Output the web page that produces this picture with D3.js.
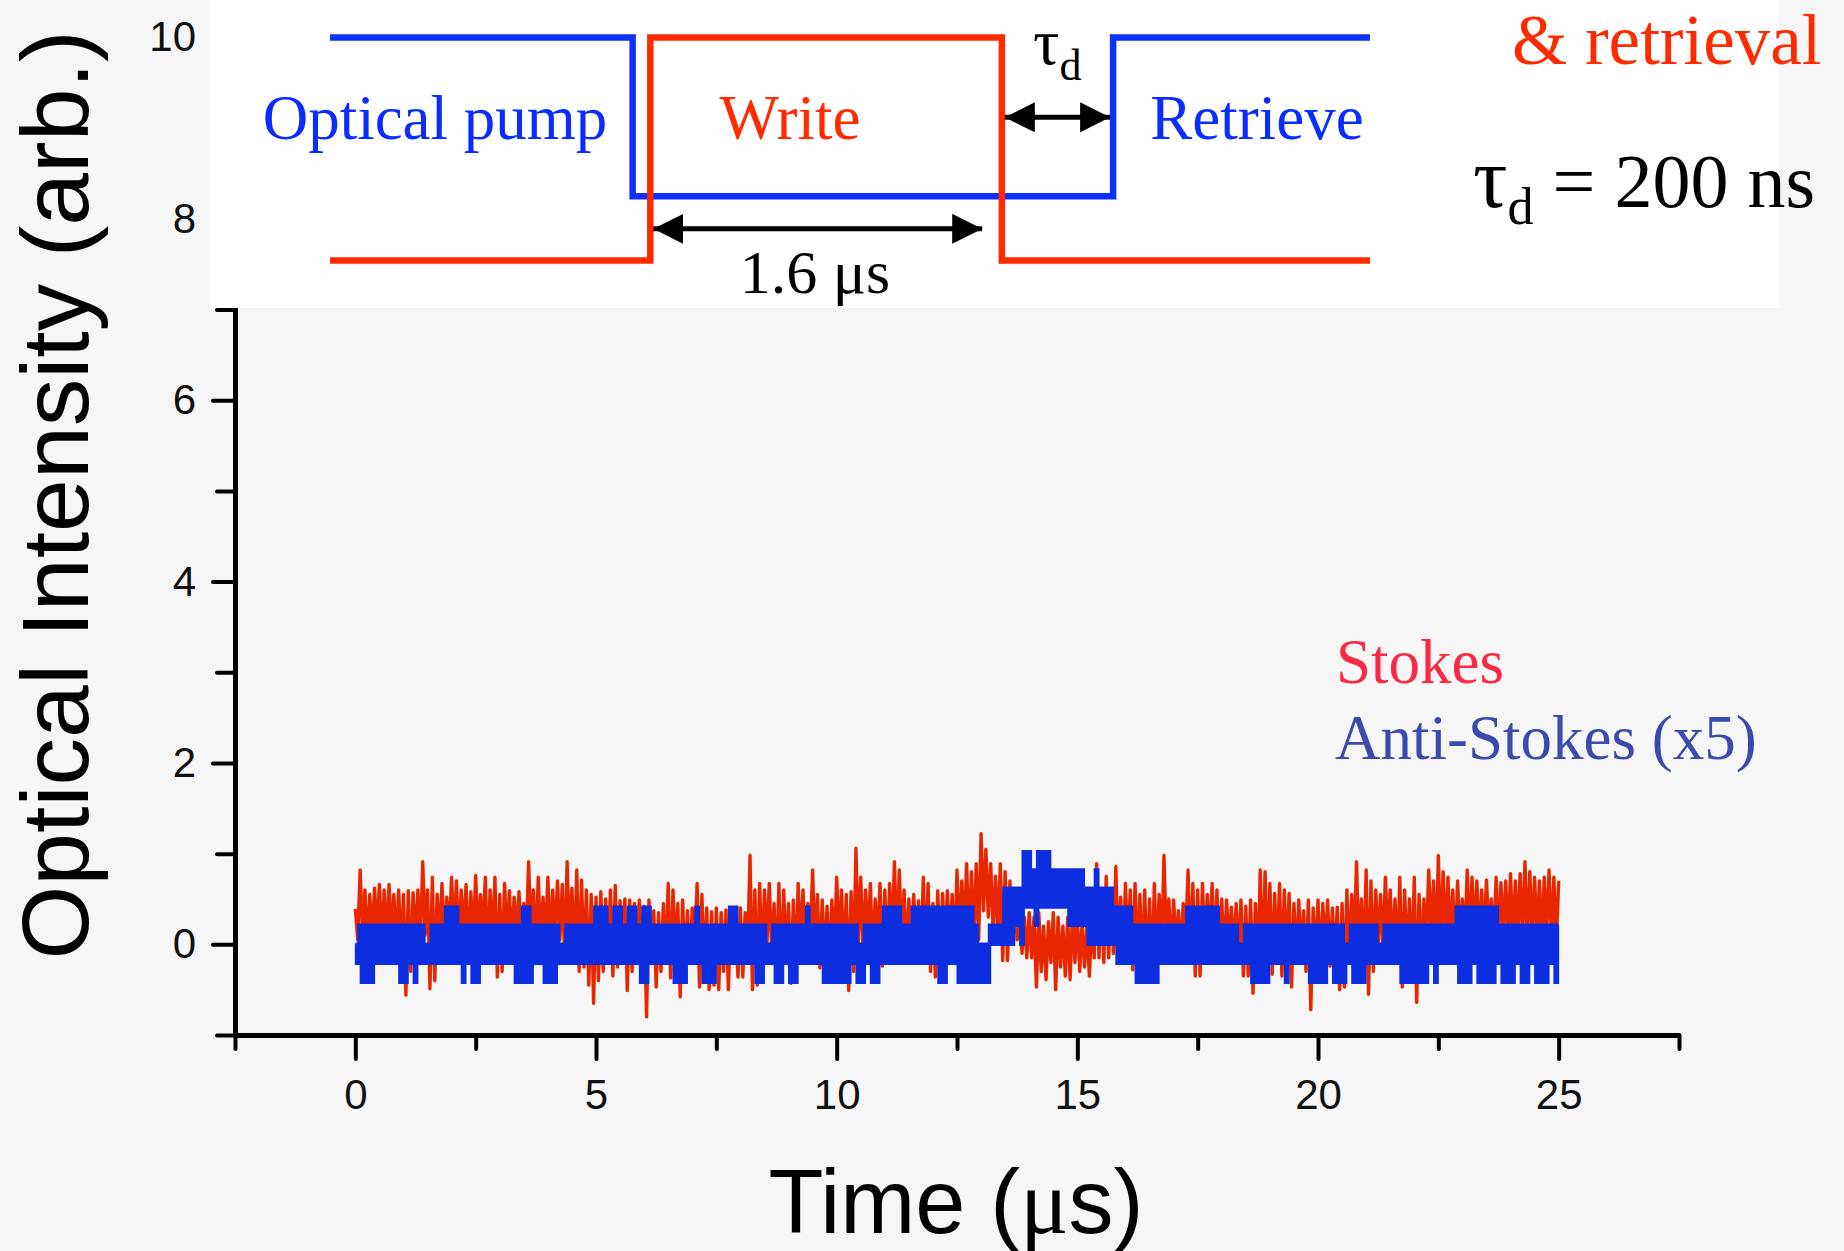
<!DOCTYPE html>
<html>
<head>
<meta charset="utf-8">
<script src="https://cdn.jsdelivr.net/npm/d3@7"></script>
<style>
  body { margin: 0; background: #f6f6f6; }
  svg { display: block; }
</style>
</head>
<body>
<div id="chart"></div>
<script>
// ==========================
// Stokes / anti-Stokes traces
// ==========================
const width = 1844,
  height = 1251;

// scope traces are read in 0.1 us bins: highest and lowest excursion in each bin
const sampleStep = 0.1;

const stokesHi = [
  0.39, 0.82, 0.6, 0.55, 0.62, 0.66, 0.6, 0.66, 0.55, 0.6,
  0.55, 0.59, 0.57, 0.6, 0.91, 0.6, 0.74, 0.55, 0.67, 0.52,
  0.74, 0.7, 0.6, 0.66, 0.58, 0.76, 0.55, 0.74, 0.6, 0.74,
  0.55, 0.67, 0.59, 0.52, 0.58, 0.45, 0.91, 0.6, 0.74, 0.52,
  0.74, 0.6, 0.7, 0.66, 0.91, 0.62, 0.82, 0.71, 0.6, 0.55,
  0.52, 0.58, 0.5, 0.6, 0.65, 0.48, 0.5, 0.49, 0.45, 0.49,
  0.42, 0.49, 0.37, 0.35, 0.45, 0.67, 0.6, 0.45, 0.49, 0.37,
  0.4, 0.67, 0.55, 0.4, 0.36, 0.4, 0.35, 0.38, 0.33, 0.37,
  0.4, 0.35, 0.98, 0.6, 0.67, 0.6, 0.67, 0.45, 0.67, 0.6,
  0.45, 0.49, 0.67, 0.6, 0.45, 0.82, 0.55, 0.49, 0.42, 0.49,
  0.74, 0.6, 0.55, 0.58, 1.06, 0.74, 0.6, 0.67, 0.5, 0.67,
  0.6, 0.67, 0.91, 0.82, 0.6, 0.5, 0.55, 0.48, 0.74, 0.67,
  0.45, 0.59, 0.56, 0.59, 0.55, 0.82, 0.7, 0.89, 0.8, 0.89,
  1.22, 1.05, 0.89, 0.75, 0.89, 0.8, 0.7, 0.5, 0.4, 0.3,
  0.35, 0.3, 0.35, 0.2, 0.25, 0.35, 0.3, 0.2, 0.3, 0.35,
  0.3, 0.25, 0.2, 0.25, 0.89, 0.6, 0.75, 0.55, 0.86, 0.52,
  0.67, 0.6, 0.67, 0.55, 0.6, 0.5, 0.67, 0.55, 0.98, 0.5,
  0.49, 0.37, 0.45, 0.82, 0.67, 0.6, 0.67, 0.55, 0.67, 0.6,
  0.5, 0.49, 0.41, 0.45, 0.49, 0.42, 0.49, 0.45, 0.82, 0.8,
  0.67, 0.56, 0.67, 0.6, 0.56, 0.45, 0.49, 0.37, 0.49, 0.4,
  0.49, 0.45, 0.49, 0.4, 0.41, 0.45, 0.6, 0.55, 0.91, 0.5,
  0.82, 0.7, 0.6, 0.55, 0.74, 0.6, 0.5, 0.74, 0.6, 0.5,
  0.74, 0.55, 0.5, 0.82, 0.7, 0.98, 0.8, 0.74, 0.6, 0.7,
  0.5, 0.82, 0.74, 0.7, 0.6, 0.71, 0.5, 0.74, 0.68, 0.7,
  0.78, 0.7, 0.78, 0.91, 0.8, 0.74, 0.7, 0.74, 0.82, 0.74,
  0.7
];

const stokesLo = [
  0.05, 0.1, 0.0, 0.05, 0.1, 0.0, 0.05, 0.1, 0.0, -0.15,
  -0.56, -0.3, 0.05, 0.0, 0.1, -0.49, -0.4, 0.05, 0.0, 0.1,
  0.05, 0.0, 0.1, -0.1, 0.0, 0.05, 0.1, -0.2, 0.0, -0.36,
  -0.3, 0.05, 0.0, 0.1, 0.0, 0.05, 0.1, -0.1, 0.0, 0.05,
  0.0, 0.1, 0.05, -0.15, 0.0, -0.2, -0.3, -0.25, -0.45, -0.65,
  -0.4, -0.3, -0.2, -0.35, -0.25, -0.2, -0.51, -0.3, -0.2, -0.1,
  -0.8, -0.2, -0.47, -0.3, -0.2, -0.37, -0.1, -0.58, -0.3, -0.2,
  -0.1, -0.47, -0.3, -0.5, -0.45, -0.5, -0.3, -0.5, -0.2, -0.36,
  -0.36, -0.1, -0.5, -0.45, -0.2, 0.0, -0.1, -0.3, -0.4, -0.2,
  -0.43, -0.3, 0.0, -0.1, 0.05, -0.1, -0.26, -0.2, -0.26, -0.1,
  0.0, -0.2, -0.51, -0.3, 0.0, -0.1, 0.05, -0.2, 0.0, -0.24,
  -0.2, 0.0, -0.1, 0.05, -0.2, -0.1, 0.0, -0.15, -0.2, -0.3,
  -0.36, -0.2, 0.0, 0.05, -0.1, 0.05, 0.1, 0.0, 0.05, 0.05,
  0.37, 0.3, 0.15, 0.1, -0.18, -0.18, 0.0, 0.05, -0.1, -0.15,
  -0.15, -0.47, -0.3, -0.39, -0.2, -0.5, -0.25, -0.35, -0.39, -0.2,
  -0.3, -0.25, -0.35, -0.15, -0.15, -0.2, -0.15, -0.1, -0.15, -0.14,
  -0.1, -0.28, -0.2, -0.28, -0.35, -0.39, -0.2, -0.1, 0.0, -0.1,
  0.0, -0.1, 0.05, -0.2, -0.35, -0.35, -0.1, 0.0, -0.15, -0.1,
  -0.15, 0.0, -0.1, -0.2, -0.35, -0.35, -0.54, -0.3, -0.33, -0.2,
  -0.33, -0.21, -0.35, -0.2, -0.47, -0.2, -0.1, -0.3, -0.72, -0.2,
  -0.24, -0.1, -0.24, -0.2, -0.5, -0.47, -0.2, 0.0, -0.1, -0.2,
  -0.55, -0.3, 0.0, -0.1, 0.05, -0.1, -0.2, -0.47, -0.2, -0.3,
  -0.64, -0.2, 0.0, 0.05, -0.1, 0.0, 0.05, 0.0, -0.1, 0.05,
  0.0, 0.05, 0.1, 0.0, 0.05, 0.1, 0.0, 0.05, 0.1, 0.05,
  0.0, 0.1, 0.05, 0.0, 0.1, 0.05, 0.0, 0.1, 0.05, 0.0,
  0.05
];

// anti-Stokes (x5) is quantised by the scope
const antiHi = [
  0.0, 0.21, 0.21, 0.21, 0.21, 0.21, 0.21, 0.21, 0.21, 0.21,
  0.21, 0.21, 0.21, 0.21, 0.21, 0.0, 0.21, 0.21, 0.21, 0.41,
  0.41, 0.41, 0.21, 0.21, 0.21, 0.21, 0.21, 0.21, 0.21, 0.21,
  0.21, 0.21, 0.21, 0.21, 0.21, 0.41, 0.41, 0.21, 0.21, 0.21,
  0.21, 0.21, 0.21, 0.0, 0.21, 0.21, 0.21, 0.21, 0.21, 0.21,
  0.41, 0.41, 0.41, 0.21, 0.41, 0.41, 0.21, 0.41, 0.41, 0.21,
  0.41, 0.41, 0.21, 0.21, 0.21, 0.21, 0.21, 0.21, 0.21, 0.21,
  0.21, 0.41, 0.21, 0.21, 0.21, 0.21, 0.21, 0.21, 0.41, 0.41,
  0.21, 0.21, 0.21, 0.21, 0.21, 0.21, 0.0, 0.21, 0.21, 0.21,
  0.21, 0.21, 0.21, 0.21, 0.41, 0.21, 0.21, 0.21, 0.21, 0.21,
  0.21, 0.21, 0.21, 0.21, 0.21, 0.0, 0.21, 0.21, 0.21, 0.21,
  0.41, 0.41, 0.41, 0.41, 0.21, 0.21, 0.41, 0.41, 0.41, 0.41,
  0.41, 0.41, 0.41, 0.41, 0.41, 0.41, 0.41, 0.41, 0.41, 0.21,
  0.0, 0.0, 0.21, 0.21, 0.21, 0.62, 0.62, 0.62, 0.62, 1.02,
  1.02, 0.82, 1.02, 1.02, 1.02, 0.82, 0.82, 0.82, 0.82, 0.82,
  0.82, 0.82, 0.62, 0.62, 0.82, 0.62, 0.62, 0.62, 0.41, 0.41,
  0.41, 0.41, 0.21, 0.21, 0.21, 0.21, 0.21, 0.21, 0.21, 0.21,
  0.21, 0.21, 0.21, 0.41, 0.41, 0.41, 0.41, 0.41, 0.41, 0.41,
  0.21, 0.21, 0.21, 0.21, 0.0, 0.21, 0.21, 0.21, 0.21, 0.21,
  0.21, 0.21, 0.21, 0.21, 0.21, 0.21, 0.21, 0.21, 0.21, 0.21,
  0.21, 0.21, 0.21, 0.21, 0.21, 0.21, 0.0, 0.21, 0.21, 0.21,
  0.21, 0.21, 0.21, 0.0, 0.21, 0.21, 0.21, 0.21, 0.21, 0.21,
  0.21, 0.21, 0.21, 0.21, 0.21, 0.21, 0.21, 0.21, 0.21, 0.41,
  0.41, 0.41, 0.41, 0.41, 0.41, 0.41, 0.41, 0.41, 0.21, 0.21,
  0.21, 0.21, 0.21, 0.21, 0.21, 0.21, 0.21, 0.21, 0.21, 0.21,
  0.21
];

const antiLo = [
  -0.21, -0.42, -0.42, -0.42, -0.21, -0.21, -0.21, -0.21, -0.21, -0.42,
  -0.42, -0.21, -0.42, -0.21, -0.21, -0.21, -0.21, -0.21, -0.21, -0.21,
  -0.21, -0.21, -0.42, -0.21, -0.42, -0.42, -0.21, -0.21, -0.21, -0.21,
  -0.21, -0.21, -0.21, -0.42, -0.42, -0.42, -0.42, -0.21, -0.21, -0.42,
  -0.42, -0.42, -0.21, -0.21, -0.21, -0.21, -0.21, -0.21, -0.21, -0.21,
  -0.21, -0.21, -0.21, -0.21, -0.21, -0.21, -0.21, -0.21, -0.21, -0.42,
  -0.42, -0.21, -0.21, -0.21, -0.21, -0.21, -0.42, -0.42, -0.42, -0.21,
  -0.21, -0.21, -0.42, -0.42, -0.42, -0.21, -0.21, -0.21, -0.21, -0.21,
  -0.21, -0.21, -0.21, -0.42, -0.42, -0.21, -0.21, -0.42, -0.42, -0.21,
  -0.42, -0.42, -0.21, -0.21, -0.21, -0.21, -0.21, -0.42, -0.42, -0.42,
  -0.42, -0.42, -0.42, -0.21, -0.42, -0.42, -0.21, -0.42, -0.42, -0.21,
  -0.21, -0.21, -0.21, -0.21, -0.21, -0.21, -0.21, -0.21, -0.21, -0.21,
  -0.21, -0.42, -0.42, -0.21, -0.21, -0.42, -0.42, -0.42, -0.42, -0.42,
  -0.42, -0.42, 0.0, 0.0, 0.0, 0.0, 0.0, 0.21, 0.0, 0.41,
  0.41, 0.21, 0.41, 0.41, 0.41, 0.41, 0.41, 0.41, 0.21, 0.21,
  0.21, 0.21, 0.0, 0.0, 0.0, 0.0, 0.0, 0.0, -0.21, -0.21,
  -0.21, -0.21, -0.42, -0.42, -0.42, -0.42, -0.42, -0.21, -0.21, -0.21,
  -0.21, -0.21, -0.21, -0.21, -0.21, -0.21, -0.21, -0.21, -0.21, -0.21,
  -0.21, -0.21, -0.21, -0.21, -0.21, -0.21, -0.42, -0.42, -0.42, -0.42,
  -0.21, -0.21, -0.21, -0.42, -0.21, -0.21, -0.21, -0.21, -0.42, -0.42,
  -0.42, -0.42, -0.21, -0.42, -0.42, -0.42, -0.21, -0.42, -0.42, -0.42,
  -0.21, -0.21, -0.21, -0.21, -0.21, -0.21, -0.21, -0.42, -0.42, -0.42,
  -0.42, -0.42, -0.42, -0.21, -0.42, -0.21, -0.21, -0.21, -0.21, -0.42,
  -0.42, -0.42, -0.21, -0.42, -0.42, -0.42, -0.42, -0.21, -0.42, -0.42,
  -0.42, -0.21, -0.42, -0.42, -0.21, -0.42, -0.42, -0.42, -0.21, -0.42,
  -0.42
];

// axis ticks
const xMajor = [0, 5, 10, 15, 20, 25];
const xMinor = [-2.5, 2.5, 7.5, 12.5, 17.5, 22.5, 27.5];
const yMajor = [0, 2, 4, 6, 8, 10];
const yMinor = [-1, 1, 3, 5, 7, 9];

// pulse sequence sketch in the inset: [sketch time, level]
const pumpSteps = [[0, 10], [29.1, 8.25], [75.3, 10], [100, 10]];
const writeSteps = [[0, 7.54], [30.8, 10], [64.6, 7.54], [100, 7.54]];
const writeWidth = [30.8, 63.0];   // "1.6 us" arrow
const delayWidth = [64.6, 75.3];   // tau_d arrow

const sans = '"Liberation Sans", Arial, sans-serif';
const serif = '"Liberation Serif", "Times New Roman", serif';

const svg = d3.select("#chart")
  .append("svg")
  .attr("width", width)
  .attr("height", height);

svg.append("rect")
  .attr("width", width)
  .attr("height", height)
  .attr("fill", "#f6f6f6");

const x = d3.scaleLinear().domain([-2.5, 27.5]).range([235, 1679]);
const y = d3.scaleLinear().domain([-1, 10]).range([1035, 37.5]);
const sx = d3.scaleLinear().domain([0, 100]).range([330, 1370]);

// ---- axes ----
function styleAxis(g, lineW) {
  g.attr("font-family", sans).attr("font-size", 42);
  g.selectAll(".tick line").attr("stroke-width", lineW).attr("stroke-linecap", "round");
  g.selectAll(".tick text").attr("fill", "#111");
}

const gxMinor = svg.append("g").attr("transform", `translate(0,${y(-1)})`)
  .call(d3.axisBottom(x).tickValues(xMinor).tickSize(14).tickFormat(""));
gxMinor.select(".domain").remove();
styleAxis(gxMinor, 4);

const gx = svg.append("g").attr("transform", `translate(0,${y(-1)})`)
  .call(d3.axisBottom(x).tickValues(xMajor).tickSize(24).tickPadding(20).tickSizeOuter(0));
gx.select(".domain").attr("stroke-width", 5);
styleAxis(gx, 4);

const gyMinor = svg.append("g").attr("transform", `translate(${x(-2.5)},0)`)
  .call(d3.axisLeft(y).tickValues(yMinor).tickSize(18).tickFormat(""));
gyMinor.select(".domain").remove();
styleAxis(gyMinor, 4);

const gy = svg.append("g").attr("transform", `translate(${x(-2.5)},0)`)
  .call(d3.axisLeft(y).tickValues(yMajor).tickSize(22).tickPadding(17).tickSizeOuter(0));
gy.select(".domain").attr("stroke-width", 5);
styleAxis(gy, 4);

// axis titles
svg.append("text")
  .attr("transform", `translate(88,495) rotate(-90)`)
  .attr("text-anchor", "middle")
  .attr("font-family", sans)
  .attr("font-size", 95)
  .text("Optical Intensity (arb.)");

const xt = svg.append("text")
  .attr("x", 956)
  .attr("y", 1233)
  .attr("text-anchor", "middle")
  .attr("font-family", sans)
  .attr("font-size", 90);
xt.append("tspan").text("Time (");
xt.append("tspan").attr("font-family", serif).text("μ");
xt.append("tspan").text("s)");

// ---- traces: each bin gives its top then its bottom ----
function binPoints(hi, lo) {
  const pts = [];
  hi.forEach(function (h, i) {
    pts.push([i * sampleStep, h]);
    if (i < hi.length - 1) pts.push([i * sampleStep + sampleStep / 2, lo[i]]);
  });
  return pts;
}

const trace = d3.line()
  .x(function (d) { return x(d[0]) })
  .y(function (d) { return y(d[1]) });

svg.append("path")
  .attr("d", trace(binPoints(stokesHi, stokesLo)))
  .attr("fill", "none")
  .attr("stroke", "#e82600")
  .attr("stroke-width", 3.4)
  .attr("stroke-linejoin", "round");

svg.append("path")
  .attr("d", trace.curve(d3.curveStep)(binPoints(antiHi, antiLo)))
  .attr("fill", "none")
  .attr("stroke", "#0c2de0")
  .attr("stroke-width", 3.4);

// legend
svg.append("text")
  .attr("x", 1336).attr("y", 683)
  .attr("font-family", serif).attr("font-size", 63)
  .attr("fill", "#fb2a44")
  .text("Stokes");
svg.append("text")
  .attr("x", 1335).attr("y", 759)
  .attr("font-family", serif).attr("font-size", 63)
  .attr("fill", "#3e49ad")
  .text("Anti-Stokes (x5)");

// ---- inset with the pulse sequence ----
svg.append("rect")
  .attr("x", 209).attr("y", 0)
  .attr("width", 1570).attr("height", 308)
  .attr("fill", "#ffffff");

const step = d3.line()
  .curve(d3.curveStepAfter)
  .x(function (d) { return sx(d[0]) })
  .y(function (d) { return y(d[1]) });

svg.append("path")
  .attr("d", step(pumpSteps))
  .attr("fill", "none")
  .attr("stroke", "#0f31ff")
  .attr("stroke-width", 6.5);

svg.append("path")
  .attr("d", step(writeSteps))
  .attr("fill", "none")
  .attr("stroke", "#ff2a00")
  .attr("stroke-width", 6.5);

const defs = svg.append("defs");
defs.append("marker")
  .attr("id", "head")
  .attr("viewBox", "0 0 30 30")
  .attr("refX", 30).attr("refY", 15)
  .attr("markerWidth", 30).attr("markerHeight", 30)
  .attr("markerUnits", "userSpaceOnUse")
  .attr("orient", "auto-start-reverse")
  .append("path")
  .attr("d", "M0,0 L30,15 L0,30 Z")
  .attr("fill", "#000");

function dimArrow(span, level) {
  svg.append("line")
    .attr("x1", sx(span[0]) + 3).attr("x2", sx(span[1]) - 3)
    .attr("y1", y(level)).attr("y2", y(level))
    .attr("stroke", "#000")
    .attr("stroke-width", 5)
    .attr("marker-start", "url(#head)")
    .attr("marker-end", "url(#head)");
}
dimArrow(writeWidth, 7.89);
dimArrow(delayWidth, 9.12);

function label(txt, xp, yp, size, color, anchor) {
  return svg.append("text")
    .attr("x", xp).attr("y", yp)
    .attr("text-anchor", anchor || "middle")
    .attr("font-family", serif)
    .attr("font-size", size)
    .attr("fill", color)
    .text(txt);
}

label("Optical pump", 435, 139, 63, "#0a2dff");
label("Write", 790, 139, 63, "#ff2a00");
label("Retrieve", 1257, 139, 63, "#0a2dff");
label("1.6 μs", 815, 293, 62, "#000");
// the source crops the top of this line; kept just inside the frame here
label("& retrieval", 1512, 64, 71, "#ff2a00", "start");

const tau = svg.append("text")
  .attr("x", 1033).attr("y", 64)
  .attr("font-family", serif).attr("font-size", 66);
tau.append("tspan").text("τ");
tau.append("tspan").attr("font-size", 44).attr("dy", 16).text("d");

const tauVal = svg.append("text")
  .attr("x", 1473).attr("y", 207)
  .attr("font-family", serif).attr("font-size", 76);
tauVal.append("tspan").attr("font-size", 86).text("τ");
tauVal.append("tspan").attr("font-size", 52).attr("dy", 17).text("d");
tauVal.append("tspan").attr("dy", -17).text(" = 200 ns");
</script>
</body>
</html>
